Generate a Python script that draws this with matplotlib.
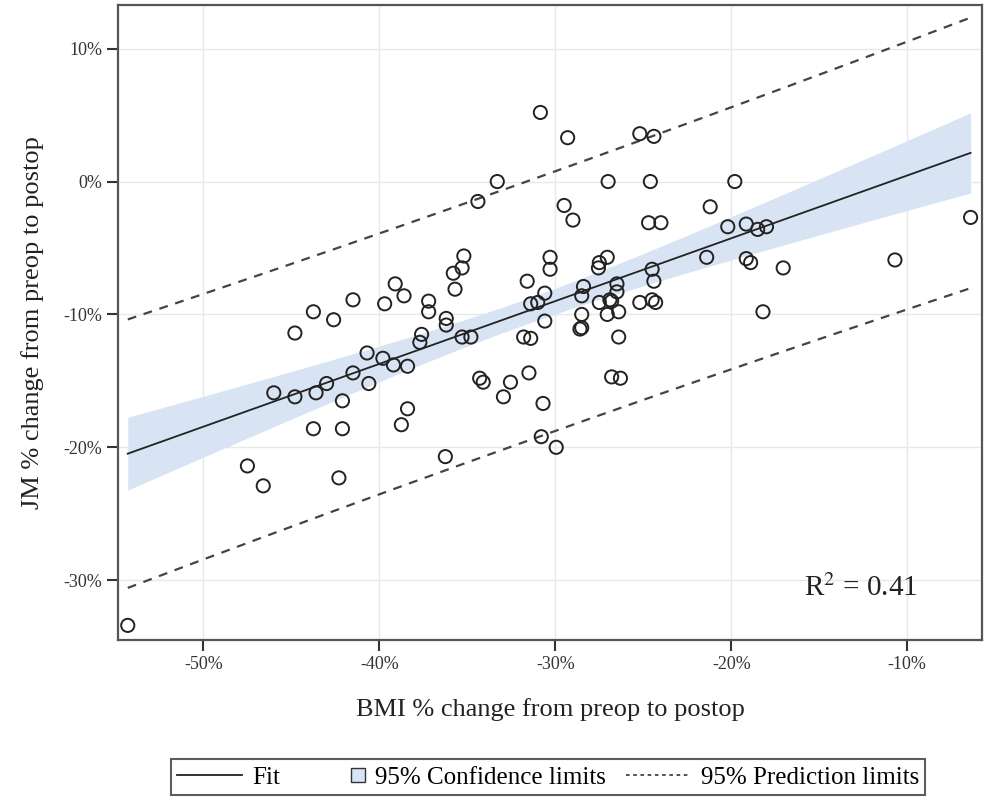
import numpy as np
import matplotlib
matplotlib.use("Agg")
import matplotlib.pyplot as plt
from matplotlib.lines import Line2D
from matplotlib.patches import Patch, Rectangle
from matplotlib.legend_handler import HandlerPatch

plt.rcParams['font.family'] = ['Liberation Serif', 'DejaVu Serif']

# BMI % change (x) and JM % change (y)
bmi_change = [
    -30.85, -33.3, -34.4, -35.2, -35.3, -35.8, -35.7, -39.1, -38.6, -39.7,
    -41.5, -43.75, -42.6, -44.8, -37.2, -37.2, -36.2, -36.2, -31.6, -31.4,
    -31.0, -30.6, -30.3, -30.3, -30.6, -37.6, -37.7, -35.3, -34.8, -31.8,
    -31.4, -40.7, -39.8, -39.2, -38.4, -41.5, -43.0, -40.6, -43.6, -44.8,
    -46.0, -42.1, -43.75, -42.1, -38.4, -38.75, -34.3, -34.1, -32.55, -32.95,
    -31.5, -30.7, -30.8, -36.25, -47.5, -46.6, -42.3, -54.3, -29.3, -25.2,
    -24.4, -27.0, -24.6, -19.8, -29.5, -29.0, -21.2, -24.7, -24.0, -20.2,
    -19.15, -18.5, -18.0, -6.4, -21.4, -19.15, -18.9, -17.05, -10.7, -18.2,
    -27.05, -27.5, -27.55, -28.4, -28.5, -26.5, -26.5, -24.5, -24.4, -27.5,
    -26.9, -26.8, -25.2, -24.5, -24.3, -28.5, -28.5, -28.6, -27.05, -26.4,
    -26.4, -29.95, -26.8, -26.3,
]
jm_change = [
    5.2, 0.0, -1.5, -5.6, -6.5, -6.9, -8.1, -7.7, -8.6, -9.2,
    -8.9, -9.8, -10.4, -11.4, -9.0, -9.8, -10.3, -10.8, -7.5, -9.2,
    -9.1, -8.4, -5.7, -6.6, -10.5, -11.5, -12.1, -11.7, -11.7, -11.7,
    -11.8, -12.9, -13.3, -13.8, -13.9, -14.4, -15.2, -15.2, -15.9, -16.2,
    -15.9, -16.5, -18.6, -18.6, -17.1, -18.3, -14.8, -15.1, -15.1, -16.2,
    -14.4, -16.7, -19.2, -20.7, -21.4, -22.9, -22.3, -33.4, 3.3, 3.6,
    3.4, 0.0, 0.0, 0.0, -1.8, -2.9, -1.9, -3.1, -3.1, -3.4,
    -3.2, -3.6, -3.4, -2.7, -5.7, -5.8, -6.1, -6.5, -5.9, -9.8,
    -5.7, -6.1, -6.5, -7.9, -8.6, -7.7, -8.3, -6.6, -7.5, -9.1,
    -8.9, -9.0, -9.1, -8.9, -9.1, -10.0, -11.0, -11.1, -10.0, -9.8,
    -11.7, -20.0, -14.7, -14.8,
]

x_ticks = [-50, -40, -30, -20, -10]
x_ticklabels = ['-50%', '-40%', '-30%', '-20%', '-10%']
y_ticks = [10, 0, -10, -20, -30]
y_ticklabels = ['10%', '0%', '-10%', '-20%', '-30%']

x = np.array(bmi_change)
y = np.array(jm_change)
n = len(x)

# simple linear regression with 95% confidence and prediction limits
slope, intercept = np.polyfit(x, y, 1)
resid = y - (slope * x + intercept)
s = np.sqrt(np.sum(resid ** 2) / (n - 2))
xbar = x.mean()
sxx = np.sum((x - xbar) ** 2)
t = 1.984

xs = np.linspace(x.min(), x.max(), 200)
fit = slope * xs + intercept
ci = t * s * np.sqrt(1 / n + (xs - xbar) ** 2 / sxx)
pi = t * s * np.sqrt(1 + 1 / n + (xs - xbar) ** 2 / sxx)

band = '#d8e4f3'

fig = plt.figure(figsize=(9.84, 8.02), dpi=100)
ax = fig.add_axes([0.12, 0.202, 0.878, 0.792])

ax.fill_between(xs, fit - ci, fit + ci, color=band, lw=0, zorder=1)
ax.plot(xs, fit, color='#222222', lw=1.3, zorder=3)
ax.plot(xs, fit + pi, color='#444444', lw=1.6, dashes=(4, 3.5), zorder=3)
ax.plot(xs, fit - pi, color='#444444', lw=1.6, dashes=(4, 3.5), zorder=3)
ax.scatter(x, y, s=90, facecolors='none', edgecolors='#222222', linewidths=1.4, zorder=4)

ax.set_xlim(-54.85, -5.75)
ax.set_ylim(-34.5, 13.3)
ax.set_xticks(x_ticks)
ax.set_xticklabels(x_ticklabels)
ax.set_yticks(y_ticks)
ax.set_yticklabels(y_ticklabels)
ax.grid(True, color='#e8e8e8', lw=1)
ax.set_axisbelow(True)
ax.tick_params(axis='both', labelsize=13, colors='#333333', length=8, width=1.5)
for sp in ax.spines.values():
    sp.set_color('#555555')
    sp.set_linewidth(1.6)

ax.set_xlabel('BMI % change from preop to postop', fontsize=19, color='#222222', labelpad=18)
ax.set_ylabel('JM % change from preop to postop', fontsize=19, color='#222222', labelpad=14)

ax.text(0.925, 0.07, r'R$^2$ = 0.41', transform=ax.transAxes, ha='right', va='baseline',
        fontsize=21, color='#222222', math_fontfamily='stix')


def small_square(legend, orig_handle, xdescent, ydescent, width, height, fontsize):
    side = 0.55 * fontsize
    return Rectangle((width - xdescent - side, (height - side) / 2 - ydescent), side, side)


handles = [
    Line2D([], [], color='#222222', lw=1.3),
    Patch(facecolor=band, edgecolor='#333333', lw=1),
    Line2D([], [], color='#444444', lw=1.3, dashes=(2, 2)),
]
labels = ['Fit', '95% Confidence limits', '95% Prediction limits']
leg = fig.legend(handles, labels, loc='center', bbox_to_anchor=(0.557, 0.031), ncol=3,
                 fontsize=18, frameon=True, fancybox=False, edgecolor='#333333',
                 handlelength=2.6, handletextpad=0.4, columnspacing=0.8,
                 borderpad=0.25, handleheight=0.8,
                 handler_map={Patch: HandlerPatch(patch_func=small_square)})
leg.get_frame().set_linewidth(1.5)

fig.savefig('out.png', dpi=100)
